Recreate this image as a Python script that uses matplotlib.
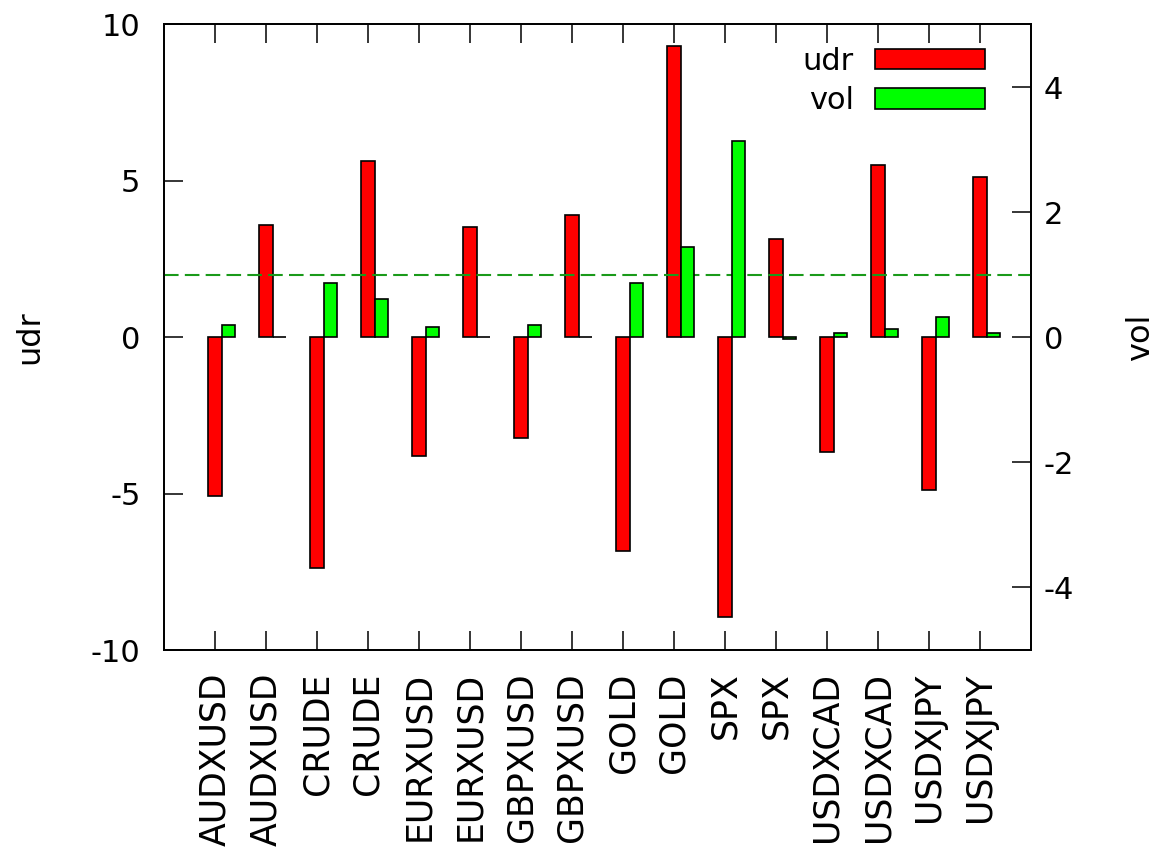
import numpy as np
import matplotlib
matplotlib.use('Agg')
import matplotlib.pyplot as plt

symbols = ['AUDXUSD', 'AUDXUSD', 'CRUDE', 'CRUDE', 'EURXUSD', 'EURXUSD',
           'GBPXUSD', 'GBPXUSD', 'GOLD', 'GOLD', 'SPX', 'SPX',
           'USDXCAD', 'USDXCAD', 'USDXJPY', 'USDXJPY']
udr = [-5.07, 3.59, -7.38, 5.64, -3.79, 3.53, -3.21, 3.91,
       -6.83, 9.32, -8.95, 3.14, -3.66, 5.52, -4.87, 5.13]
vol = [0.20, 0.01, 0.87, 0.61, 0.165, 0.0, 0.20, 0.0,
       0.87, 1.445, 3.14, -0.03, 0.07, 0.13, 0.32, 0.064]
udr_ticks = [-10, -5, 0, 5, 10]
vol_ticks = [-4, -2, 0, 2, 4]
level = 2  # dashed reference on the udr axis

W, H = 1161, 864
fig = plt.figure(figsize=(W / 100, H / 100), dpi=100)
ax = fig.add_axes([164 / W, 1 - 650 / H, (1031 - 164) / W, (650 - 24.5) / H])
ax2 = ax.twinx()

x = np.arange(len(symbols))
w = 0.26

b1 = ax.bar(x, udr, w, color='#ff0000', edgecolor='black', linewidth=1.2,
            label='udr', zorder=2)
b2 = ax2.bar(x + w, vol, w, color='#00ff00', edgecolor='black', linewidth=1.2,
             label='vol', zorder=2)
ax.axhline(level, color='#1a9a1a', linewidth=1.5, dashes=(7, 3), zorder=3)

ax.set_xlim(-1, len(symbols))
ax.set_ylim(-10, 10)
ax2.set_ylim(-5, 5)
ax.set_yticks(udr_ticks)
ax.set_yticklabels([str(t) for t in udr_ticks])
ax2.set_yticks(vol_ticks)
ax2.set_yticklabels([str(t) for t in vol_ticks])
ax.set_xticks(x)
ax.set_xticklabels(symbols, rotation=90, fontsize=25)

ax.tick_params(axis='x', direction='in', length=14, width=1.1, top=True, pad=16)
ax.tick_params(axis='y', direction='in', length=14, width=1.1, right=False,
               labelsize=22, pad=17)
ax2.tick_params(axis='y', direction='in', length=14, width=1.1, labelsize=22, pad=9)

for a in (ax, ax2):
    for s in a.spines.values():
        s.set_linewidth(1.3)

ax.set_ylabel('udr', fontsize=23)
ax.yaxis.set_label_coords(-0.137, 0.5)
ax2.set_ylabel('vol', fontsize=23)
ax2.yaxis.set_label_coords(1.109, 0.5)

ax2.set_zorder(ax.get_zorder() + 1)
ax2.patch.set_visible(False)

leg = ax2.legend([b1, b2], ['udr', 'vol'], loc='upper right',
                 bbox_to_anchor=(985 / W, 1 - 47 / H), bbox_transform=fig.transFigure,
                 frameon=False, markerfirst=False, fontsize=22,
                 handlelength=3.6, handleheight=0.65, handletextpad=0.7,
                 labelspacing=0.33, borderpad=0, borderaxespad=0)

fig.savefig('out.png', dpi=100)
